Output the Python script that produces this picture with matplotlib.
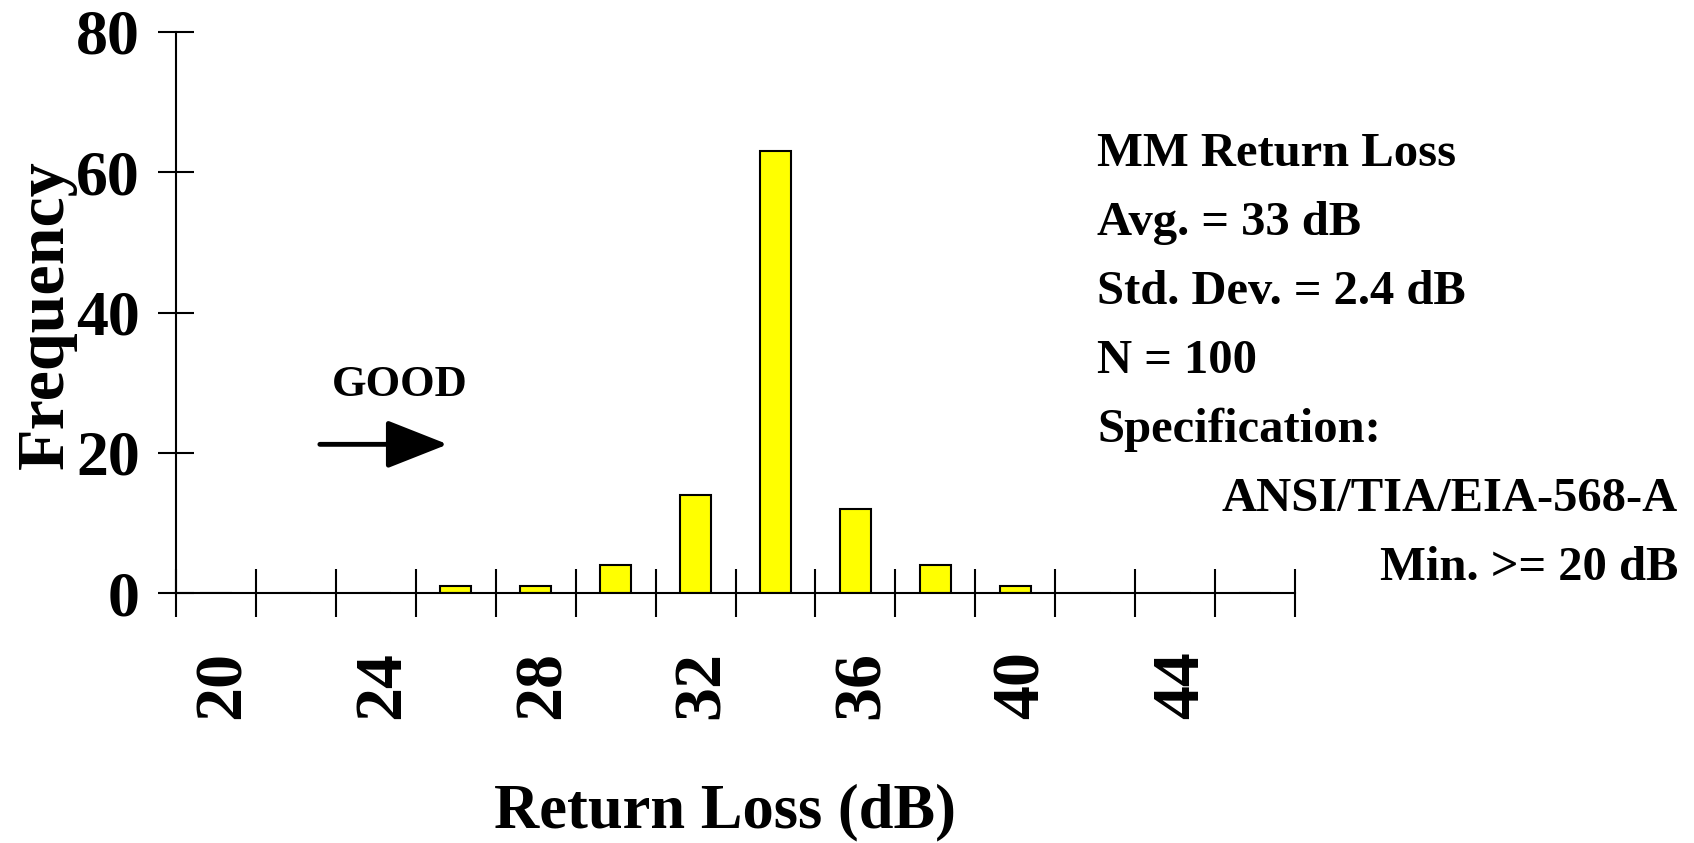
import matplotlib
matplotlib.use("Agg")
import matplotlib.pyplot as plt
import matplotlib.transforms as mtransforms
from matplotlib.ticker import FixedLocator, NullFormatter

# ---- data ----
bin_centers = [20, 22, 24, 26, 28, 30, 32, 34, 36, 38, 40, 42, 44, 46]
frequency = [0, 0, 0, 1, 1, 4, 14, 63, 12, 4, 1, 0, 0, 0]
x_tick_labels = [20, 24, 28, 32, 36, 40, 44]
y_ticks = [0, 20, 40, 60, 80]
stats_lines = ["MM Return Loss", "Avg. = 33 dB", "Std. Dev. = 2.4 dB",
               "N = 100", "Specification:"]
spec_lines = ["ANSI/TIA/EIA-568-A", "Min. >= 20 dB"]

W, H = 1694, 843
DPI = 100
fig = plt.figure(figsize=(W / DPI, H / DPI), dpi=DPI)
FONT = "Liberation Serif"

def fx(px):
    return px / W

def fy(py):
    return 1 - py / H

ax = fig.add_axes([fx(176), fy(593), fx(1295) - fx(176), fy(32) - fy(593)])

bin_w = bin_centers[1] - bin_centers[0]
ax.bar(bin_centers, frequency, width=0.78, color="#FFFF00",
       edgecolor="black", linewidth=1.5, zorder=3)

ax.set_xlim(bin_centers[0] - bin_w / 2, bin_centers[-1] + bin_w / 2)
ax.set_ylim(0, 80)

for s in ["top", "right"]:
    ax.spines[s].set_visible(False)
for s in ["left", "bottom"]:
    ax.spines[s].set_linewidth(1.5)
ax.spines["bottom"].set_zorder(4)

# category boundaries as major ticks, labels as minor ticks
bounds = [c - bin_w / 2 for c in bin_centers] + [bin_centers[-1] + bin_w / 2]
ax.xaxis.set_major_locator(FixedLocator(bounds))
ax.xaxis.set_major_formatter(NullFormatter())
ax.xaxis.set_minor_locator(FixedLocator(x_tick_labels))
ax.set_xticklabels([str(v) for v in x_tick_labels], minor=True)
ax.tick_params(axis="x", which="major", direction="inout", length=34, width=1.5)
ax.tick_params(axis="x", which="minor", length=0, pad=42, labelsize=49,
               labelrotation=90)
for lab in ax.get_xticklabels(minor=True):
    lab.set_fontfamily(FONT)
    lab.set_fontweight("bold")
    lab.set_transform(lab.get_transform() +
                      mtransforms.ScaledTranslation(7 / DPI, 0, fig.dpi_scale_trans))

ax.set_yticks(y_ticks)
ax.set_yticklabels([str(v) for v in y_ticks])
ax.tick_params(axis="y", direction="inout", length=26, width=1.5, pad=13,
               labelsize=46)
for lab in ax.get_yticklabels():
    lab.set_fontfamily(FONT)
    lab.set_fontweight("bold")

# axis titles
fig.text(fx(725), fy(812), "Return Loss (dB)", ha="center", va="center",
         fontsize=45, fontweight="bold", family=FONT)
fig.text(fx(46), fy(315), "Frequency", ha="center", va="center", rotation=90,
         fontsize=49, fontweight="bold", family=FONT)

# GOOD arrow
ax.text(24.6, 29.7, "GOOD", ha="center", va="center", fontsize=32,
        fontweight="bold", family=FONT)
ax.annotate("", xy=(25.8, 21.2), xytext=(22.6, 21.2),
            arrowprops=dict(arrowstyle="-|>,head_length=3.8,head_width=1.5",
                            mutation_scale=10, lw=3.5, color="black",
                            shrinkA=0, shrinkB=0, capstyle="round"))

# stats block
baselines = [166, 235, 304, 373, 442]
for line, b in zip(stats_lines, baselines):
    fig.text(fx(1097), fy(b), line, ha="left", va="baseline", fontsize=35,
             fontweight="bold", family=FONT)
for line, b in zip(spec_lines, [511, 580]):
    fig.text(fx(1678), fy(b), line, ha="right", va="baseline", fontsize=35,
             fontweight="bold", family=FONT)

fig.savefig("out.png", dpi=DPI)
